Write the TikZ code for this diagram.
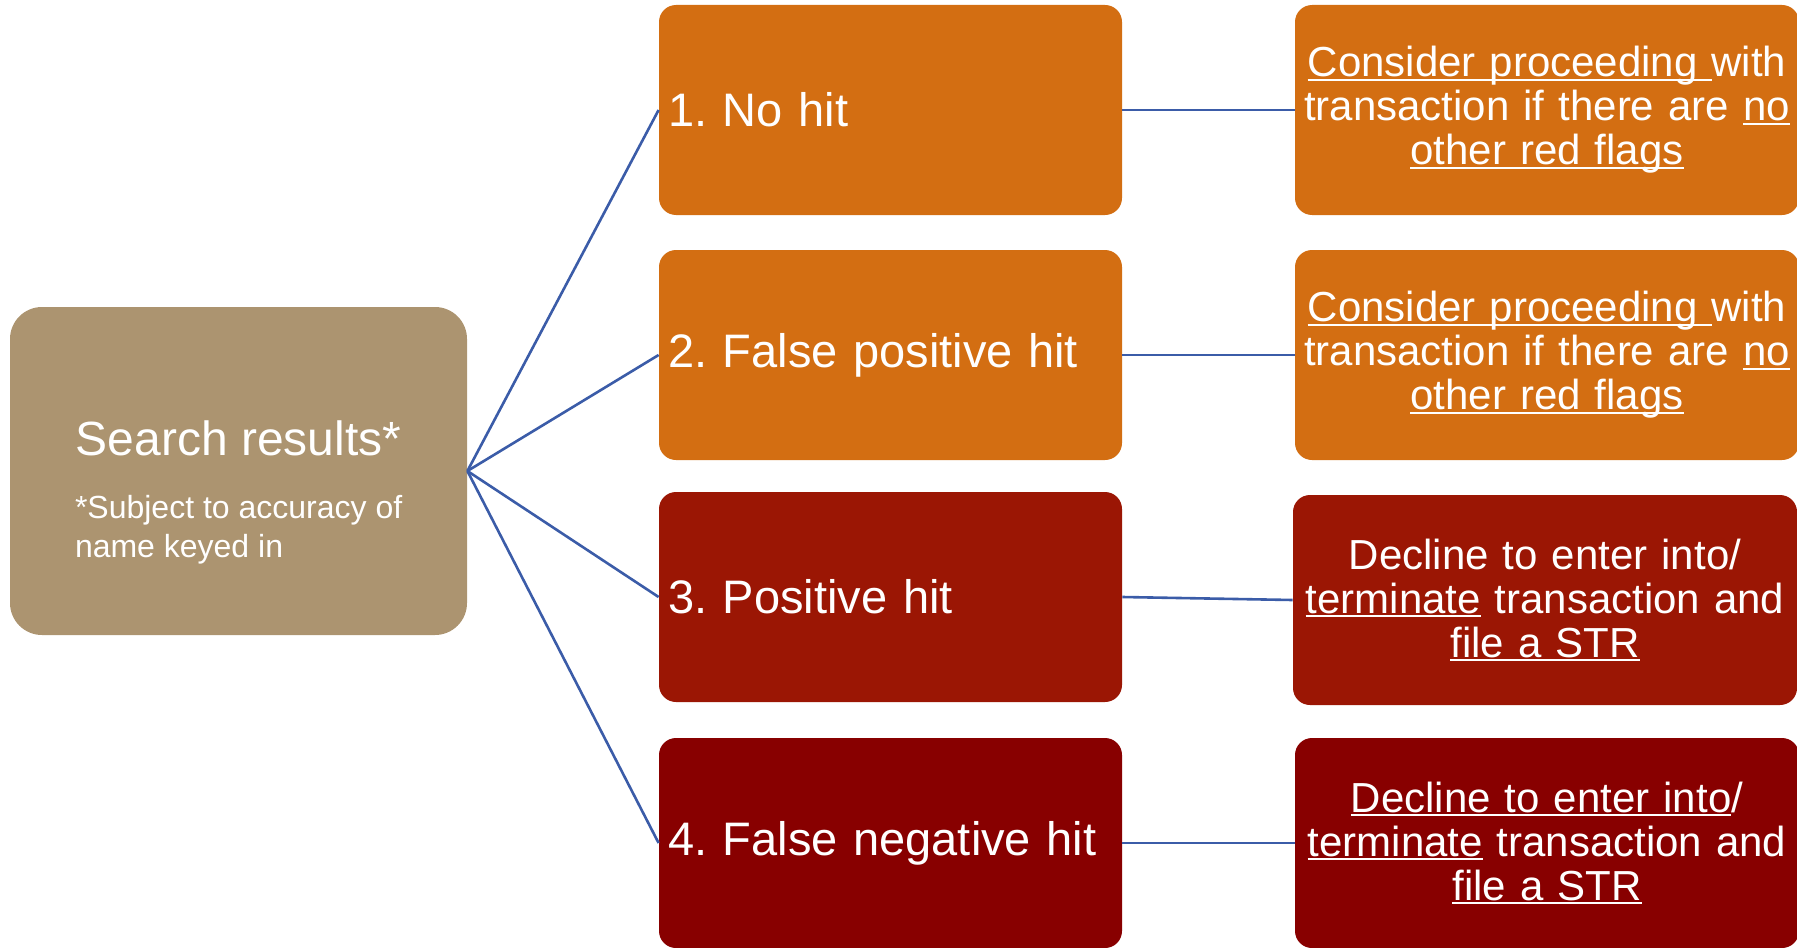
\documentclass[tikz,border=0pt]{standalone}
\usepackage{fontspec}
\setmainfont{Liberation Sans}
\definecolor{tanbox}{HTML}{AC9470}
\definecolor{orangebox}{HTML}{D36E12}
\definecolor{redbox}{HTML}{9B1604}
\definecolor{darkredbox}{HTML}{880000}
\definecolor{linkblue}{HTML}{3B5CA8}
\frenchspacing
\newsavebox{\ulbox}
\newcommand{\ulined}[1]{\leavevmode\sbox{\ulbox}{#1}\rlap{\rule[-0.105em]{\wd\ulbox}{0.055em}}\usebox{\ulbox}}

\begin{document}
\begin{tikzpicture}[x=0.5pt,y=-0.5pt,
	box/.style={rounded corners=8.5pt,text=white},
	hitbox/.style={box,inner xsep=4.5pt,inner ysep=0pt,minimum width=231.5pt,minimum height=105pt,text width=222.5pt,align=left,font=\fontsize{23.5}{28}\selectfont},
	actbox/.style={box,inner xsep=1pt,inner ysep=0pt,minimum width=252pt,minimum height=105pt,text width=250pt,align=center,font=\fontsize{21}{22}\selectfont},
	link/.style={draw=linkblue,line width=1.3pt}]
	\useasboundingbox (0,0) rectangle (1797,947);
	% left box
	\node[box,fill=tanbox,rounded corners=16pt,minimum width=228.5pt,minimum height=164pt] (search) at (238.5,471) {};
	\node[text=white,anchor=base,font=\fontsize{24}{28}\selectfont] (title) at ([yshift=8pt]search.center) {Search results*};
	\node[text=white,anchor=base west,align=left,inner sep=0pt,font=\fontsize{16}{19.5}\selectfont] (note) at ([xshift=32.5pt,yshift=-43pt]search.west) {*Subject to accuracy of\\name keyed in};
	% search outcomes
	\node[hitbox,fill=orangebox] (hit1) at (890.5,110) {1. No hit};
	\node[hitbox,fill=orangebox] (hit2) at (890.5,355) {2. False positive hit};
	\node[hitbox,fill=redbox] (hit3) at (890.5,597) {3. Positive hit};
	\node[hitbox,fill=darkredbox] (hit4) at (890.5,843) {4. False negative hit};
	% actions
	\node[actbox,fill=orangebox] (act1) at (1547,110) {\ulined{Consider proceeding\ }with\\transaction if there are \ulined{no}\\\ulined{other red flags}};
	\node[actbox,fill=orangebox] (act2) at (1547,355) {\ulined{Consider proceeding\ }with\\transaction if there are \ulined{no}\\\ulined{other red flags}};
	\node[actbox,fill=redbox] (act3) at (1545,600) {Decline to enter into/\\\ulined{terminate} transaction and\\\ulined{file a STR}};
	\node[actbox,fill=darkredbox] (act4) at (1547,843) {\ulined{Decline to enter into}/\\\ulined{terminate} transaction and\\\ulined{file a STR}};
	% connectors
	\foreach \n in {1,...,4} {
		\draw[link] (search.east) -- (hit\n.west);
		\draw[link] (hit\n.east) -- (act\n.west);
	}
\end{tikzpicture}
\end{document}
